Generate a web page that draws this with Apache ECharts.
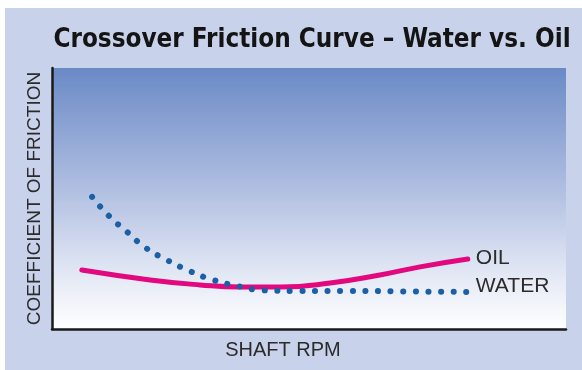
<!DOCTYPE html>
<html><head><meta charset="utf-8">
<script src="https://cdn.jsdelivr.net/npm/echarts@6/dist/echarts.min.js"></script>
<style>html,body{margin:0;padding:0;background:#fff}#c{width:582px;height:370px}</style>
</head><body><div id="c"></div>
<script>
const titleText = 'Crossover Friction Curve – Water vs. Oil';
const xName = 'SHAFT RPM';
const yName = 'COEFFICIENT OF FRICTION';
const waterX = [7.8, 11.1, 14.6, 18.3, 22.4, 26.8, 31.3, 36.0, 40.7, 48.2, 58.0, 67.7, 80.9];
const waterY = [50.6, 43.3, 37.2, 31.0, 26.4, 22.2, 18.8, 16.5, 14.9, 14.6, 14.6, 14.4, 14.2];
const oilX = [5.8, 19.1, 28.8, 36.6, 44.4, 54.1, 63.8, 71.6, 80.9];
const oilY = [22.6, 18.8, 16.9, 16.1, 16.1, 17.6, 20.7, 23.8, 26.8];
const seriesNames = ['OIL', 'WATER'];

const zip = (a, b) => a.map((v, i) => [v, b[i]]);
const chart = echarts.init(document.getElementById('c'));
const labelFont = 'Liberation Sans, Arial, sans-serif';
chart.setOption({
  animation: false,
  backgroundColor: '#ffffff',
  graphic: [
    { type: 'rect', z: -10, shape: { x: 5, y: 8, width: 577, height: 362 }, style: { fill: '#c8d2ea' } },
    { type: 'rect', z: -9, shape: { x: 53, y: 68, width: 513, height: 261 },
      style: { fill: new echarts.graphic.LinearGradient(0, 0, 0, 1, [
        { offset: 0, color: '#6a8ac6' },
        { offset: 0.45, color: '#aebde0' },
        { offset: 0.8, color: '#e4e9f5' },
        { offset: 1, color: '#ffffff' }
      ]) } }
  ],
  title: {
    text: titleText, left: 307, textAlign: 'center', top: 22,
    textStyle: { fontFamily: '"DejaVu Sans Condensed", sans-serif', fontWeight: 'bold', fontSize: 25.8, color: '#141414' }
  },
  grid: { left: 52, right: 16, top: 68, bottom: 41, containLabel: false },
  xAxis: {
    type: 'value', min: 0, max: 100,
    name: xName, nameLocation: 'middle', nameGap: 11,
    nameTextStyle: { fontFamily: labelFont, fontSize: 20, color: '#2b2b2b', padding: [0, 52, 0, 0] },
    axisLine: { show: true, lineStyle: { color: '#1a1a1a', width: 2.5 } },
    axisTick: { show: false }, axisLabel: { show: false }, splitLine: { show: false }
  },
  yAxis: {
    type: 'value', min: 0, max: 100,
    name: yName, nameLocation: 'middle', nameGap: 8, nameRotate: 90,
    nameTextStyle: { fontFamily: labelFont, fontSize: 19, color: '#2b2b2b' },
    axisLine: { show: true, lineStyle: { color: '#1a1a1a', width: 2.5 } },
    axisTick: { show: false }, axisLabel: { show: false }, splitLine: { show: false }
  },
  series: [
    {
      name: seriesNames[0], type: 'line', data: zip(oilX, oilY), smooth: true, symbol: 'none',
      lineStyle: { color: '#e2097f', width: 5, cap: 'round' },
      endLabel: { show: true, formatter: seriesNames[0], distance: 8, offset: [0, -1], fontFamily: labelFont, fontSize: 21, color: '#2b2b2b' }
    },
    {
      name: seriesNames[1], type: 'line', data: zip(waterX, waterY), smooth: true, symbol: 'none',
      lineStyle: { color: '#1b5fa6', width: 6, type: [0.1, 12.5], cap: 'round' },
      endLabel: { show: true, formatter: seriesNames[1], distance: 8, offset: [0, -6], fontFamily: labelFont, fontSize: 21, color: '#2b2b2b' }
    }
  ]
});
</script></body></html>
